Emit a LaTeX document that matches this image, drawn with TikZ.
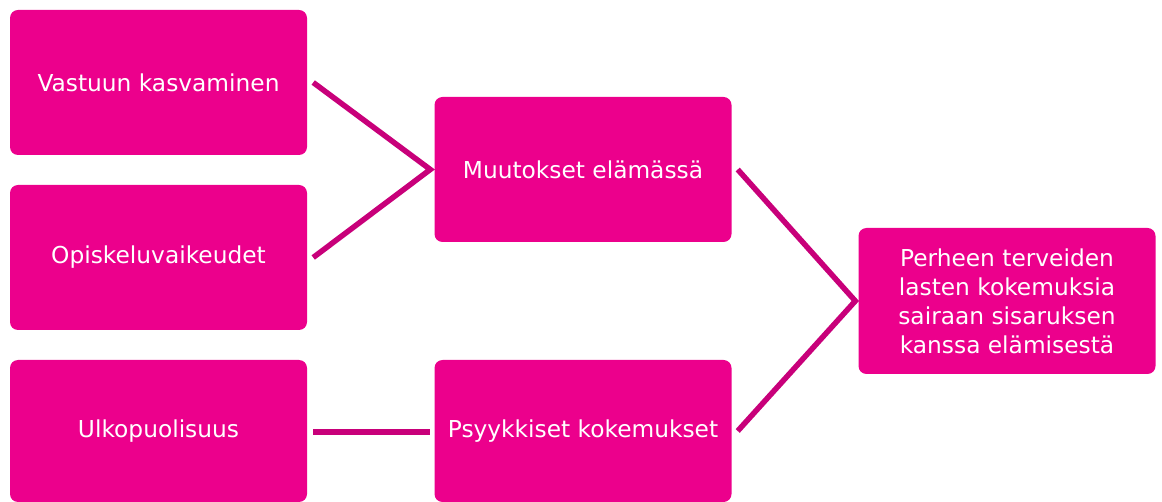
\documentclass[tikz,border=0pt]{standalone}
\usepackage{fontspec}
\setmainfont{DejaVu Sans}
\usetikzlibrary{calc}
\definecolor{boxpink}{HTML}{EC008C}
\definecolor{linepink}{HTML}{C8007A}
\tikzset{
  box/.style={fill=boxpink, draw=none, rounded corners=8pt, minimum width=297pt, minimum height=145pt, inner sep=0pt, text=white, font=\fontsize{23.3}{29}\selectfont, align=center},
  conn/.style={draw=linepink, line width=5.5pt}
}
\begin{document}
\begin{tikzpicture}[x=1pt,y=-1pt]
\useasboundingbox (0,0) rectangle (1162,502);
\node[box] (b1) at (158.5,82.5) {Vastuun kasvaminen};
\node[box] (b2) at (158.5,257.5) {Opiskeluvaikeudet};
\node[box, minimum height=142pt] (b3) at (158.5,431) {Ulkopuolisuus};
\node[box] (b4) at (583,169.5) {Muutokset elämässä};
\node[box, minimum height=142pt] (b5) at (583,431) {Psyykkiset kokemukset};
\node[box, minimum height=146pt] (b6) at (1007,301) {Perheen terveiden\\lasten kokemuksia\\sairaan sisaruksen\\kanssa elämisestä};
\coordinate (j1) at ($(b4.west)+(-4,0)$);
\coordinate (j2) at ($(b6.west)+(-3,0)$);
\draw[conn] ($(b1.east)+(6,0)$) -- (j1) -- ($(b2.east)+(6,0)$);
\draw[conn] ($(b4.east)+(6,0)$) -- (j2) -- ($(b5.east)+(6,0)$);
\draw[conn] ($(b3.east)+(6,1)$) -- ($(b5.west)+(-4,1)$);
\end{tikzpicture}
\end{document}
